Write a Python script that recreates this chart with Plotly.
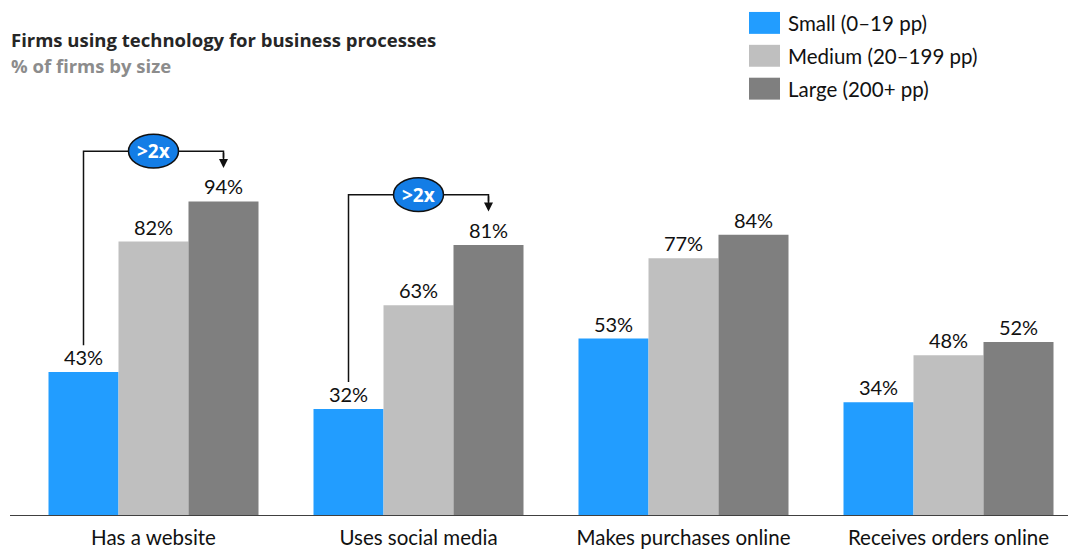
import plotly.graph_objects as go

# Data
categories = ["Has a website", "Uses social media", "Makes purchases online", "Receives orders online"]
series_names = ["Small (0–19 pp)", "Medium (20–199 pp)", "Large (200+ pp)"]
small = [43, 32, 53, 34]
medium = [82, 63, 77, 48]
large = [94, 81, 84, 52]
series_values = [small, medium, large]
series_colors = ["#229DFF", "#BFBFBF", "#7F7F7F"]

title_text = "Firms using technology for business processes"
subtitle_text = "% of firms by size"
callout_text = ">2x"
callout_groups = [0, 1]  # groups where small vs. large more than doubles

W, H = 1068, 549
ML, MR, MT, MB = 10, 0, 0, 31
PW, PH = W - ML - MR, H - MT - MB
PX_PER_CAT = 265.0
PX_PER_PCT = 3.36
X0 = -(153.5 - ML) / PX_PER_CAT
X1 = X0 + PW / PX_PER_CAT
Y1 = PH / PX_PER_PCT

BAR_W = 70 / PX_PER_CAT
FONT = "Lato, sans-serif"
TITLE_FONT = "Open Sans, sans-serif"


def px(xpix):
    return (xpix - ML) / PW


def py(ypix):
    return 1 - (ypix - MT) / PH


fig = go.Figure()
for name, vals, col in zip(series_names, series_values, series_colors):
    fig.add_trace(go.Bar(
        x=categories, y=vals, name=name, marker=dict(color=col, line=dict(width=0)),
        text=[f"{v}%" for v in vals], textposition="outside",
        textfont=dict(size=20, color="#111111", family=FONT),
        cliponaxis=False, showlegend=False,
    ))

shapes = []
annotations = []

# Title block
annotations.append(dict(text=f"<b>{title_text}</b>", xref="paper", yref="paper",
                        x=px(9), y=py(40), xanchor="left", yanchor="middle",
                        showarrow=False, font=dict(size=18.5, color="#262626", family=TITLE_FONT)))
annotations.append(dict(text=f"<b>{subtitle_text}</b>", xref="paper", yref="paper",
                        x=px(9), y=py(66), xanchor="left", yanchor="middle",
                        showarrow=False, font=dict(size=18.5, color="#8C8C8C", family=TITLE_FONT)))

# Legend drawn as swatches + labels
for i, (name, col) in enumerate(zip(series_names, series_colors)):
    top = 12 + i * 33
    shapes.append(dict(type="rect", xref="paper", yref="paper",
                       x0=px(749), x1=px(780), y0=py(top), y1=py(top + 22),
                       fillcolor=col, line=dict(width=0)))
    annotations.append(dict(text=name, xref="paper", yref="paper",
                            x=px(786), y=py(top + 11), xanchor="left", yanchor="middle",
                            showarrow=False, font=dict(size=20.5, color="#111111", family=FONT)))

# ">2x" callouts connecting small and large bars
ell_hw = 25 / PX_PER_CAT
ell_hh = 17 / PX_PER_PCT
for g in callout_groups:
    xs = g - BAR_W
    xl = g + BAR_W
    y_line = large[g] + 15
    y_tip = large[g] + 10
    y_bot = small[g] + 8
    shapes.append(dict(type="path", xref="x", yref="y",
                       path=f"M {xs},{y_bot} L {xs},{y_line} L {xl},{y_line} L {xl},{y_tip + 3}",
                       line=dict(color="#111111", width=1.5)))
    annotations.append(dict(x=xl, y=y_tip, ax=xl, ay=y_line, xref="x", yref="y",
                            axref="x", ayref="y", text="", showarrow=True,
                            arrowhead=2, arrowsize=1.2, arrowwidth=1.5, arrowcolor="#111111"))
    shapes.append(dict(type="circle", xref="x", yref="y",
                       x0=g - ell_hw, x1=g + ell_hw, y0=y_line - ell_hh, y1=y_line + ell_hh,
                       fillcolor="#137DE6", line=dict(color="#111111", width=1.5)))
    annotations.append(dict(text=f"<b>{callout_text}</b>", x=g, y=y_line, xref="x", yref="y",
                            showarrow=False, xanchor="center", yanchor="middle",
                            font=dict(size=19, color="white", family=TITLE_FONT)))

fig.update_layout(
    width=W, height=H, margin=dict(l=ML, r=MR, t=MT, b=MB),
    paper_bgcolor="white", plot_bgcolor="white",
    barmode="group", bargap=1 - 3 * BAR_W, bargroupgap=0,
    shapes=shapes, annotations=annotations,
    font=dict(family=FONT, color="#111111"),
    xaxis=dict(range=[X0, X1], showgrid=False, zeroline=False, showline=False,
               ticks="", ticklabelstandoff=7,
               tickfont=dict(size=20.5, color="#111111", family=FONT)),
    yaxis=dict(range=[0, Y1], visible=False, showgrid=False, zeroline=False),
)
# Baseline
fig.add_shape(type="line", xref="paper", yref="y", x0=0, x1=1, y0=0, y1=0,
              line=dict(color="#404040", width=2))

fig.write_html("out.html")
